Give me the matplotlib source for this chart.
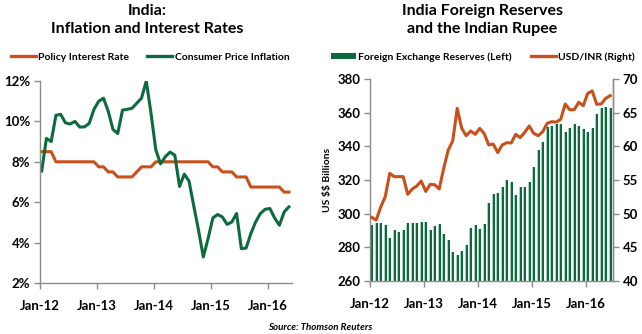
import matplotlib
matplotlib.use("Agg")
import matplotlib.pyplot as plt
from matplotlib.lines import Line2D
from matplotlib.patches import Patch
import numpy as np

plt.rcParams['font.family'] = ['Lato', 'DejaVu Sans']
plt.rcParams['text.parse_math'] = False

# ---------------- data ----------------
year_labels = ["Jan-12", "Jan-13", "Jan-14", "Jan-15", "Jan-16"]

# monthly, Jan-12 .. May-16
policy_rate = [8.5, 8.5, 8.5, 8.0, 8.0, 8.0, 8.0, 8.0, 8.0, 8.0, 8.0, 8.0,
               7.75, 7.75, 7.5, 7.5, 7.25, 7.25, 7.25, 7.25, 7.5, 7.75, 7.75, 7.75,
               8.0, 8.0, 8.0, 8.0, 8.0, 8.0, 8.0, 8.0, 8.0, 8.0, 8.0, 8.0,
               7.75, 7.75, 7.5, 7.5, 7.5, 7.25, 7.25, 7.25, 6.75, 6.75, 6.75, 6.75,
               6.75, 6.75, 6.75, 6.5, 6.5]
cpi = [7.54, 9.16, 9.0, 10.3, 10.35, 9.93, 9.87, 10.0, 9.72, 9.73, 9.9, 10.6,
       11.0, 11.15, 10.5, 9.6, 9.4, 10.56, 10.6, 10.65, 10.9, 11.15, 12.0, 10.4,
       8.6, 7.9, 8.25, 8.48, 8.33, 6.78, 7.39, 7.04, 5.8, 4.6, 3.29, 4.2,
       5.22, 5.39, 5.27, 4.9, 5.02, 5.44, 3.7, 3.73, 4.45, 5.02, 5.44, 5.65,
       5.69, 5.22, 4.86, 5.52, 5.77]

# monthly, Jan-12 .. Jun-16
reserves = [293.5, 294.7, 294.3, 293.0, 285.8, 290.0, 289.0, 290.3, 294.7, 294.2, 294.6, 295.0,
            295.0, 290.5, 292.5, 294.0, 287.8, 284.6, 277.3, 275.7, 277.6, 281.4, 291.2, 293.0,
            291.0, 294.0, 306.4, 311.8, 312.3, 316.0, 319.8, 318.6, 311.0, 315.7, 316.0, 318.8,
            327.7, 337.6, 342.8, 351.7, 352.0, 353.3, 353.0, 348.7, 350.7, 353.0, 351.9, 350.1,
            348.7, 350.7, 359.4, 362.6, 363.2, 363.0]
usdinr = [49.45, 49.05, 51.0, 52.5, 55.98, 55.5, 55.5, 55.5, 52.87, 53.66, 54.1, 54.85,
          53.3, 54.35, 54.3, 53.66, 56.73, 59.45, 60.79, 65.64, 62.67, 61.58, 62.28, 61.78,
          62.67, 61.9, 60.2, 60.35, 59.07, 60.2, 60.54, 60.5, 61.78, 61.3, 62.08, 63.02,
          61.93, 61.58, 62.17, 63.42, 63.66, 63.6, 64.01, 66.29, 65.44, 65.44, 66.54, 66.03,
          67.87, 68.22, 66.24, 66.29, 67.13, 67.52]

ORANGE = "#c8501a"
GREEN = "#0b6b3d"
LIGHT_GREEN = "#a9d3bb"
AXIS = "#8c8c8c"

fig = plt.figure(figsize=(6.42, 3.34), dpi=100)

def style_axis(ax):
    for s in ax.spines.values():
        s.set_color(AXIS)
        s.set_linewidth(1.0)
    ax.tick_params(axis='both', colors=AXIS, length=4, width=1.0,
                   labelcolor='black', labelsize=9.5, pad=3)
    for lab in ax.get_xticklabels() + ax.get_yticklabels():
        lab.set_fontweight('bold')

# ---------------- left chart ----------------
ax1 = fig.add_axes([40/642, 51/334, 252/642, 202/334])
x1 = np.arange(len(cpi)) + 0.35
ax1.plot(x1, policy_rate, color=ORANGE, lw=2.2, solid_joinstyle='round')
ax1.plot(x1, cpi, color=GREEN, lw=2.2, solid_joinstyle='round')
ax1.set_xlim(0, 53)
ax1.set_ylim(2, 12)
ax1.set_yticks([2, 4, 6, 8, 10, 12])
ax1.set_yticklabels([f"{v}%" for v in [2, 4, 6, 8, 10, 12]])
ax1.set_xticks([0, 12, 24, 36, 48])
ax1.set_xticklabels(year_labels)
ax1.spines['top'].set_visible(False)
ax1.spines['right'].set_visible(False)
style_axis(ax1)
ax1.tick_params(axis='x', pad=8)

fig.text(147/642, 1 - 20/334, "India:\nInflation and Interest Rates", ha='center', va='center',
         fontsize=11.5, fontweight='bold', linespacing=1.35)
leg1 = fig.legend(handles=[Line2D([], [], color=ORANGE, lw=2.4),
                           Line2D([], [], color=GREEN, lw=2.4)],
                  labels=["Policy Interest Rate", "Consumer Price Inflation"],
                  loc='center', bbox_to_anchor=(150/642, 1 - 57/334), ncol=2, frameon=False,
                  prop={'size': 7.5, 'weight': 'bold'}, handlelength=2.4, handletextpad=0.2,
                  columnspacing=1.8)

# ---------------- right chart ----------------
ax2 = fig.add_axes([370/642, 53/334, 243/642, 202/334])
x2 = np.arange(len(reserves)) + 0.38
ax2.bar(x2 - 0.22, np.array(reserves) - 260, bottom=260, width=0.18, color=LIGHT_GREEN, linewidth=0)
ax2.bar(x2 + 0.08, np.array(reserves) - 260, bottom=260, width=0.42, color=GREEN, linewidth=0)
ax2.set_xlim(0, 54)
ax2.set_ylim(260, 380)
ax2.set_yticks(range(260, 381, 20))
ax2.set_xticks([0, 12, 24, 36, 48])
ax2.set_xticklabels(year_labels)
ax2.set_ylabel("US $$ Billions", fontsize=7.5, fontweight='bold', labelpad=4)
ax2.spines['top'].set_visible(False)

ax3 = ax2.twinx()
ax3.plot(x2, usdinr, color=ORANGE, lw=2.2, solid_joinstyle='round')
ax3.set_ylim(40, 70)
ax3.set_yticks([40, 45, 50, 55, 60, 65, 70])
ax3.spines['top'].set_visible(False)
style_axis(ax2)
style_axis(ax3)
ax2.tick_params(axis='x', pad=8)
ax3.spines['left'].set_visible(False)
ax3.spines['bottom'].set_visible(False)

fig.text(482/642, 1 - 20/334, "India Foreign Reserves\nand the Indian Rupee", ha='center', va='center',
         fontsize=11.5, fontweight='bold', linespacing=1.35)
leg2 = fig.legend(handles=[Patch(facecolor=GREEN, edgecolor='none'),
                           Line2D([], [], color=ORANGE, lw=2.4)],
                  labels=["Foreign Exchange Reserves (Left)", "USD/INR (Right)"],
                  loc='center', bbox_to_anchor=(483/642, 1 - 57/334), ncol=2, frameon=False,
                  prop={'size': 7.5, 'weight': 'bold'}, handlelength=2.4, handleheight=0.5,
                  handletextpad=0.2, columnspacing=1.8)

fig.text(320/642, 1 - 327/334, "Source: Thomson Reuters", ha='center', va='center',
         fontsize=7, fontweight='bold', style='italic')

fig.savefig("out.png", dpi=100)
